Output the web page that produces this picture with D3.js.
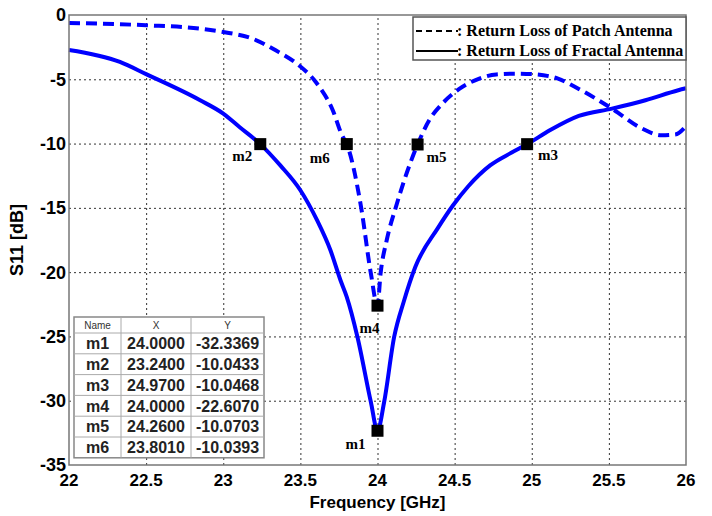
<!DOCTYPE html>
<html>
<head>
<meta charset="utf-8">
<script src="https://cdn.jsdelivr.net/npm/d3@7"></script>
<style>
  body { margin: 0; background: #fff; }
  .tick-label { font-family: "Liberation Sans", Arial, sans-serif; font-weight: bold; fill: #000; }
  .grid line { stroke: #333; stroke-width: 1; stroke-dasharray: 2,3; }
  .mk-label { font-family: "Liberation Serif", "Times New Roman", serif; font-weight: bold; font-size: 15px; }
  .legend-text { font-family: "Liberation Serif", "Times New Roman", serif; font-weight: bold; font-size: 16px; }
  .tbl { font-family: "Liberation Sans", Arial, sans-serif; }
</style>
</head>
<body>
<div id="chart"></div>
<script>
// tick labels
const xTicks = [22, 22.5, 23, 23.5, 24, 24.5, 25, 25.5, 26];
const yTicks = [0, -5, -10, -15, -20, -25, -30, -35];

// return loss of patch antenna (dashed)
const patchFreq = [22, 22.5, 22.85, 23, 23.19, 23.34, 23.49, 23.6, 23.71, 23.77, 23.801, 23.893, 23.957, 24.0,
                   24.02, 24.06, 24.12, 24.26, 24.335, 24.42, 24.53, 24.66, 24.77, 24.9, 25.03, 25.17,
                   25.305, 25.52, 25.715, 25.84, 25.93, 26];
const patchS11 = [-0.62, -0.8, -1.06, -1.32, -1.84, -2.75, -3.91, -5.21, -7.41, -9.35, -10.04, -14.9, -20.1, -22.61,
                  -20.1, -17.5, -14.9, -10.07, -8.19, -6.9, -5.75, -4.95, -4.62, -4.56, -4.62, -4.95,
                  -5.75, -7.28, -8.83, -9.36, -9.3, -8.65];

// return loss of fractal antenna (solid)
const fractalFreq = [22, 22.33, 22.5, 22.85, 23.0, 23.105, 23.24, 23.37, 23.5, 23.608, 23.695, 23.76, 23.8,
                     23.87, 23.957, 24.0, 24.043, 24.108, 24.17, 24.245, 24.39, 24.49, 24.59, 24.73, 24.87,
                     24.97, 25.12, 25.305, 25.52, 25.737, 25.95, 26];
const fractalS11 = [-2.72, -3.65, -4.6, -6.63, -7.67, -8.71, -10.04, -11.7, -13.63, -15.96, -18.3, -20.63, -21.9,
                    -25.04, -30.1, -32.34, -30.1, -25.04, -22.3, -19.6, -16.6, -14.8, -13.3, -11.7, -10.7,
                    -10.05, -8.95, -7.85, -7.28, -6.63, -5.85, -5.7];

// markers
const markerNames = ["m1", "m2", "m3", "m4", "m5", "m6"];
const markerX = [24.0000, 23.2400, 24.9700, 24.0000, 24.2600, 23.8010];
const markerY = [-32.3369, -10.0433, -10.0468, -22.6070, -10.0703, -10.0393];

const legendLabels = [": Return Loss of Patch Antenna", ": Return Loss of Fractal Antenna"];

// label offsets of marker names, relative to the marker
const labelOffset = {m1: [-22, 13], m2: [-18, 12], m3: [21, 11], m4: [-8, 22], m5: [19, 12], m6: [-27, 14]};

const W = 712, H = 516;
const margin = {top: 15, right: 26, bottom: 51, left: 69};
const width = W - margin.left - margin.right;
const height = H - margin.top - margin.bottom;

const svg = d3.select("#chart").append("svg")
  .attr("width", W)
  .attr("height", H);

svg.append("rect").attr("width", W).attr("height", H).attr("fill", "#fff");

const g = svg.append("g")
  .attr("transform", `translate(${margin.left},${margin.top})`);

const x = d3.scaleLinear().domain([22, 26]).range([0, width]);
const y = d3.scaleLinear().domain([-35, 0]).range([height, 0]);

// grid
g.append("g")
  .attr("class", "grid")
  .attr("transform", `translate(0,${height})`)
  .call(d3.axisBottom(x).tickValues(xTicks.slice(1, -1)).tickSize(-height).tickFormat(""))
  .call(s => s.select(".domain").remove());

g.append("g")
  .attr("class", "grid")
  .call(d3.axisLeft(y).tickValues(yTicks.slice(1, -1)).tickSize(-width).tickFormat(""))
  .call(s => s.select(".domain").remove());

// tick labels
g.selectAll(".xlab")
  .data(xTicks)
  .enter().append("text")
    .attr("class", "tick-label")
    .attr("x", d => x(d))
    .attr("y", height + 21)
    .attr("text-anchor", "middle")
    .style("font-size", "17px")
    .text(d => d);

g.selectAll(".ylab")
  .data(yTicks)
  .enter().append("text")
    .attr("class", "tick-label")
    .attr("x", -3)
    .attr("y", d => y(d))
    .attr("dy", "0.36em")
    .attr("text-anchor", "end")
    .style("font-size", "18px")
    .text(d => d);

// axis titles
svg.append("text")
  .attr("class", "tick-label")
  .attr("x", margin.left + width / 2)
  .attr("y", 508)
  .attr("text-anchor", "middle")
  .style("font-size", "17px")
  .text("Frequency [GHz]");

svg.append("text")
  .attr("class", "tick-label")
  .attr("transform", "translate(23,240) rotate(-90)")
  .attr("text-anchor", "middle")
  .style("font-size", "18px")
  .text("S11 [dB]");

// curves
const line = d3.line()
  .x(d => x(d[0]))
  .y(d => y(d[1]))
  .curve(d3.curveMonotoneX);

g.append("path")
  .datum(d3.zip(fractalFreq, fractalS11))
  .attr("fill", "none")
  .attr("stroke", "#0000ff")
  .attr("stroke-width", 4)
  .attr("d", line);

g.append("path")
  .datum(d3.zip(patchFreq, patchS11))
  .attr("fill", "none")
  .attr("stroke", "#0000ff")
  .attr("stroke-width", 4)
  .attr("stroke-dasharray", "11,6")
  .attr("d", line);

// frame
g.append("rect")
  .attr("width", width)
  .attr("height", height)
  .attr("fill", "none")
  .attr("stroke", "#777")
  .attr("stroke-width", 1.5);

// markers
const markers = markerNames.map((n, i) => ({name: n, fx: markerX[i], s: markerY[i]}));

g.selectAll(".marker")
  .data(markers)
  .enter().append("rect")
    .attr("x", d => x(d.fx) - 6)
    .attr("y", d => y(d.s) - 6)
    .attr("width", 12)
    .attr("height", 12)
    .attr("fill", "#000");

g.selectAll(".mk-label")
  .data(markers)
  .enter().append("text")
    .attr("class", "mk-label")
    .attr("x", d => x(d.fx) + labelOffset[d.name][0])
    .attr("y", d => y(d.s) + labelOffset[d.name][1])
    .attr("dy", "0.35em")
    .attr("text-anchor", "middle")
    .text(d => d.name);

// legend
const legend = svg.append("g").attr("transform", "translate(413,17)");
legend.append("rect")
  .attr("width", 273)
  .attr("height", 43)
  .attr("fill", "#fff")
  .attr("stroke", "#555")
  .attr("stroke-width", 1.5);

legendLabels.forEach((t, i) => {
  const ly = 13 + i * 20;
  legend.append("line")
    .attr("x1", 3).attr("x2", 45)
    .attr("y1", ly + 1).attr("y2", ly + 1)
    .attr("stroke", "#000")
    .attr("stroke-width", 2)
    .attr("stroke-dasharray", i === 0 ? "6,4" : null);
  legend.append("text")
    .attr("class", "legend-text")
    .attr("x", 44)
    .attr("y", ly)
    .attr("dy", "0.35em")
    .text(t);
});

// marker table
const tbl = svg.append("g").attr("class", "tbl").attr("transform", "translate(74,317)");
const colX = [0, 47, 117, 190];
const headH = 16, rowH = 20.8;
const tblH = headH + rowH * markers.length;

tbl.append("rect")
  .attr("width", colX[3])
  .attr("height", tblH)
  .attr("fill", "#fff")
  .attr("stroke", "#888")
  .attr("stroke-width", 1.5);

tbl.selectAll(".vline")
  .data(colX.slice(1, 3))
  .enter().append("line")
    .attr("x1", d => d).attr("x2", d => d)
    .attr("y1", 0).attr("y2", tblH)
    .attr("stroke", "#aaa");

tbl.selectAll(".hline")
  .data(d3.range(markers.length))
  .enter().append("line")
    .attr("x1", 0).attr("x2", colX[3])
    .attr("y1", i => headH + i * rowH).attr("y2", i => headH + i * rowH)
    .attr("stroke", "#aaa");

["Name", "X", "Y"].forEach((h, j) => {
  tbl.append("text")
    .attr("x", (colX[j] + colX[j + 1]) / 2)
    .attr("y", headH / 2)
    .attr("dy", "0.35em")
    .attr("text-anchor", "middle")
    .style("font-size", "10px")
    .attr("fill", "#333")
    .text(h);
});

markers.forEach((m, i) => {
  const cy = headH + rowH * i + rowH / 2;
  [m.name, m.fx.toFixed(4), m.s.toFixed(4)].forEach((v, j) => {
    tbl.append("text")
      .attr("x", (colX[j] + colX[j + 1]) / 2)
      .attr("y", cy)
      .attr("dy", "0.36em")
      .attr("text-anchor", "middle")
      .style("font-size", "16px")
      .style("font-weight", "bold")
      .attr("fill", "#222")
      .text(v);
  });
});
</script>
</body>
</html>
